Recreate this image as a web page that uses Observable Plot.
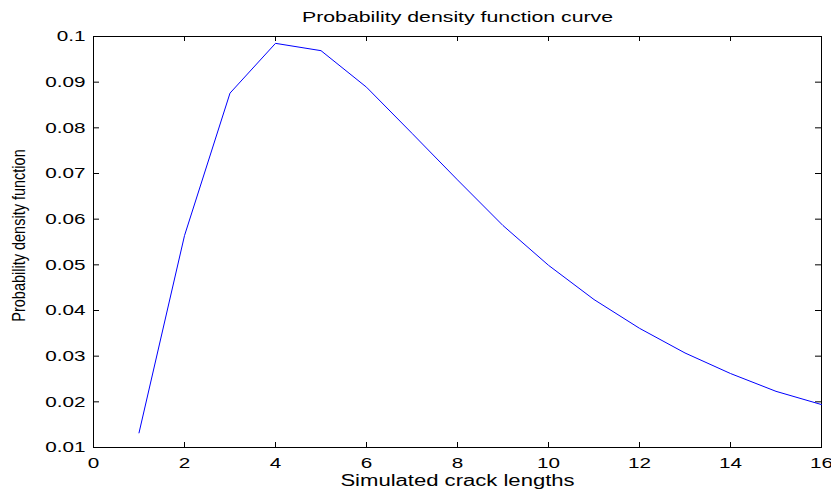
<!DOCTYPE html>
<html>
<head>
<meta charset="utf-8">
<script src="https://cdn.jsdelivr.net/npm/d3@7"></script>
<script src="https://cdn.jsdelivr.net/npm/@observablehq/plot@0.6"></script>
<style>
  html, body { margin: 0; padding: 0; background: #fff; }
  svg { display: block; }
</style>
</head>
<body>
<div id="chart"></div>
<script>
const crackLengths = [1, 2, 3, 4, 5, 6, 7, 8, 9, 10, 11, 12, 13, 14, 15, 16];
const pdfValues = [0.0132, 0.0564, 0.0876, 0.0985, 0.0969, 0.0889, 0.0788, 0.0686, 0.0586, 0.0499, 0.0424, 0.0361, 0.0307, 0.0262, 0.0223, 0.0194];
const xTicks = [0, 2, 4, 6, 8, 10, 12, 14, 16];
const yTicks = [0.01, 0.02, 0.03, 0.04, 0.05, 0.06, 0.07, 0.08, 0.09, 0.1];
const titleText = "Probability density function curve";
const xLabel = "Simulated crack lengths";
const yLabel = "Probability density function";

const data = crackLengths.map((x, i) => ({x, y: pdfValues[i]}));
const xMin = 0, xMax = 16, yMin = 0.01, yMax = 0.1;

const W = 831, H = 490, mL = 93, mR = 10, mT = 36, mB = 43;
const frameW = W - mL - mR, frameH = H - mT - mB;
const xTickLen = 5, yTickLen = 6;

const chart = Plot.plot({
  width: W,
  height: H,
  marginLeft: mL,
  marginRight: mR,
  marginTop: mT,
  marginBottom: mB,
  style: {fontFamily: "'Liberation Sans', Arial, sans-serif", background: "#fff"},
  x: {domain: [xMin, xMax]},
  y: {domain: [yMin, yMax]},
  marks: [
    Plot.axisX({anchor: "bottom", ticks: xTicks, tickSize: 0, tickPadding: 10, fontSize: 15, label: null, tickFormat: d => String(d)}),
    Plot.axisY({anchor: "left", ticks: yTicks, tickSize: 0, tickPadding: 8, fontSize: 15, label: null, tickFormat: d => String(+d.toFixed(2))}),
    Plot.frame({stroke: "#000", strokeWidth: 1}),
    // inward ticks on all four sides (short rules inset from the frame)
    Plot.ruleX(xTicks, {x: d => d, insetTop: frameH - xTickLen, stroke: "#000", strokeWidth: 1}),
    Plot.ruleX(xTicks, {x: d => d, insetBottom: frameH - xTickLen, stroke: "#000", strokeWidth: 1}),
    Plot.ruleY(yTicks, {y: d => d, insetRight: frameW - yTickLen, stroke: "#000", strokeWidth: 1}),
    Plot.ruleY(yTicks, {y: d => d, insetLeft: frameW - yTickLen, stroke: "#000", strokeWidth: 1}),
    Plot.line(data, {x: "x", y: "y", stroke: "#0000ff", strokeWidth: 1}),
    Plot.text([titleText], {frameAnchor: "top", lineAnchor: "middle", textAnchor: "middle", dy: -19.5, fontSize: 15, fill: "#000"}),
    Plot.text([xLabel], {frameAnchor: "bottom", lineAnchor: "middle", textAnchor: "middle", dy: 33.5, fontSize: 16, fill: "#000"}),
    Plot.text([yLabel], {frameAnchor: "left", lineAnchor: "middle", textAnchor: "middle", dx: -74, dy: -6.5, rotate: -90, fontSize: 14.5, fill: "#000"})
  ]
});

// widen glyphs horizontally to mimic the stretched MATLAB export
const sel = d3.select(chart);
const addScale = (el, s) => el.setAttribute("transform", (el.getAttribute("transform") || "") + " " + s);
sel.selectAll("g[aria-label='x-axis tick label'] text").each(function() { addScale(this, "scale(1.38,1)"); });
sel.selectAll("g[aria-label='y-axis tick label'] text").each(function() { addScale(this, "scale(1.38,1)"); });
sel.selectAll("text").each(function() {
  const t = this.textContent;
  if (t === titleText) addScale(this, "scale(1.42,1)");
  else if (t === xLabel) addScale(this, "scale(1.38,1)");
  else if (t === yLabel) addScale(this, "scale(1,1.25)");
});

document.getElementById("chart").appendChild(chart);
</script>
</body>
</html>
